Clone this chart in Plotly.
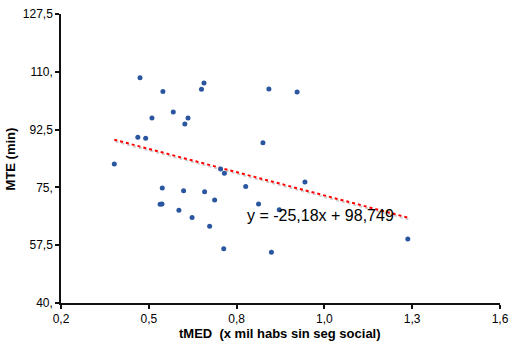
import plotly.graph_objects as go
import numpy as np

# Data
tmed = [0.452, 0.525, 0.648, 0.656, 0.490, 0.558, 0.605, 0.595, 0.445, 0.470,
        0.370, 0.863, 0.953, 0.844, 0.523, 0.591, 0.658, 0.516, 0.522, 0.576,
        0.618, 0.674, 0.709, 0.721, 0.789, 0.690, 0.830, 0.896, 0.978, 0.719,
        0.871, 1.306]
mte = [108.2, 104.0, 104.7, 106.6, 96.0, 97.8, 96.0, 94.2, 90.2, 89.9,
       82.1, 104.8, 103.9, 88.5, 74.8, 74.0, 73.7, 69.9, 70.0, 68.1,
       65.9, 63.2, 80.6, 79.3, 75.3, 71.2, 70.0, 68.2, 76.6, 56.4,
       55.4, 59.4]

# Trendline as printed on the chart
slope = -25.18
intercept = 98.749
equation_text = "y = -25,18x + 98,749"

x_tickvals = [0.2, 0.48, 0.76, 1.04, 1.32, 1.6]
x_ticktext = ["0,2", "0,5", "0,8", "1,0", "1,3", "1,6"]
y_tickvals = [40, 57.5, 75, 92.5, 110, 127.5]
y_ticktext = ["40,", "57,5", "75,", "92,5", "110,", "127,5"]

x_title = "tMED  (x mil habs sin seg social)"
y_title = "MTE (min)"

FONT = "Liberation Sans, Arial, sans-serif"

tx = np.array([min(tmed), max(tmed)])
ty = slope * tx + intercept

fig = go.Figure()

# shadow of the trendline
fig.add_trace(go.Scatter(
    x=tx + 0.004, y=ty - 0.55, mode="lines",
    line=dict(color="#cfcfcf", width=2, dash="dot"),
    hoverinfo="skip", showlegend=False))
# trendline
fig.add_trace(go.Scatter(
    x=tx, y=ty, mode="lines",
    line=dict(color="#ff0000", width=2, dash="dot"),
    showlegend=False))
# points
fig.add_trace(go.Scatter(
    x=tmed, y=mte, mode="markers",
    marker=dict(color="#2a56a0", size=5),
    showlegend=False))

fig.add_annotation(
    x=1.029, y=66.4, xref="x", yref="y", text=equation_text,
    showarrow=False, xanchor="center", yanchor="middle",
    font=dict(family=FONT, size=16, color="#000000"))

fig.add_annotation(
    x=-0.114, y=0.5, xref="paper", yref="paper", text="<b>%s</b>" % y_title,
    textangle=-90, showarrow=False, xanchor="center", yanchor="middle",
    font=dict(family=FONT, size=13, color="#000000"))
fig.add_annotation(
    x=0.499, y=-0.106, xref="paper", yref="paper", text="<b>%s</b>" % x_title,
    showarrow=False, xanchor="center", yanchor="middle",
    font=dict(family=FONT, size=13, color="#000000"))

fig.update_layout(
    width=518, height=353,
    margin=dict(l=61, r=18, t=14, b=50, autoexpand=False),
    paper_bgcolor="white", plot_bgcolor="white",
    font=dict(family=FONT, size=12, color="#000000"),
    showlegend=False,
)
fig.update_xaxes(
    range=[0.2, 1.6], tickvals=x_tickvals, ticktext=x_ticktext,
    showgrid=False, zeroline=False, showline=True, linecolor="#111111",
    linewidth=1.5, ticks="outside", ticklen=4, tickwidth=1.5, tickcolor="#111111",
    tickfont=dict(family=FONT, size=12, color="#000000"))
fig.update_yaxes(
    range=[40, 127.5], tickvals=y_tickvals, ticktext=y_ticktext,
    showgrid=False, zeroline=False, showline=True, linecolor="#111111",
    linewidth=1.5, ticks="outside", ticklen=4, tickwidth=1.5, tickcolor="#111111",
    tickfont=dict(family=FONT, size=12, color="#000000"))

fig.write_html(
    "out.html",
    config={"displayModeBar": False},
    post_script="document.body.style.margin='0';document.body.style.overflow='hidden';",
)
